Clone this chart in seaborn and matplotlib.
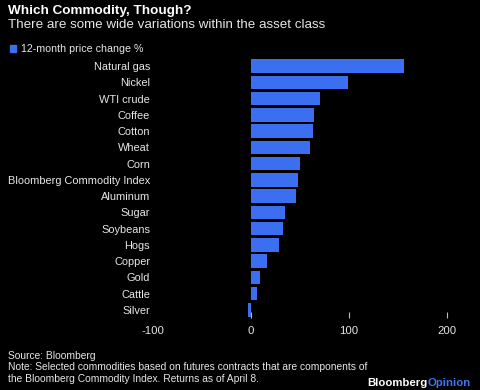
import pandas as pd
import matplotlib.pyplot as plt
import seaborn as sns

commodities = ['Natural gas', 'Nickel', 'WTI crude', 'Coffee', 'Cotton', 'Wheat',
               'Corn', 'Bloomberg Commodity Index', 'Aluminum', 'Sugar', 'Soybeans',
               'Hogs', 'Copper', 'Gold', 'Cattle', 'Silver']
price_change = [157, 99, 71, 65, 64, 60.5, 50.5, 48, 46, 34.5, 33, 28.5, 16.5, 9.5, 5.8, -3.4]
x_ticks = [-100, 0, 100, 200]

df = pd.DataFrame({'commodity': commodities, 'change': price_change})

bar_color = '#3b6ff0'
text_color = '#e6e6e6'

sns.set_style('dark')
plt.rcParams['font.family'] = ['Liberation Sans', 'DejaVu Sans']

fig = plt.figure(figsize=(4.8, 3.9), dpi=100, facecolor='black')
ax = fig.add_axes([153 / 480, 1 - 318 / 390, (470 - 153) / 480, (318 - 58) / 390])
ax.set_facecolor('black')

sns.barplot(data=df, x='change', y='commodity', orient='h', color=bar_color,
            width=0.82, saturation=1, linewidth=0, ax=ax)

ax.set_xlim(-100, 224)
ax.set_xticks(x_ticks)
ax.set_xticklabels([str(t) for t in x_ticks])
ax.set_xlabel('')
ax.set_ylabel('')
ax.grid(False)
for s in ax.spines.values():
    s.set_visible(False)

ax.tick_params(axis='x', bottom=True, direction='in', length=4, width=0.8, color='#bbbbbb',
               labelcolor=text_color, labelsize=8.2, pad=6)
ax.tick_params(axis='y', left=False, length=0, labelcolor=text_color, labelsize=7.9, pad=2)
ax.xaxis.get_major_ticks()[0].tick1line.set_visible(False)

# titles and legend
fig.text(8 / 480, 1 - 11 / 390, 'Which Commodity, Though?', color='white',
         fontsize=9.7, fontweight='bold', va='center', ha='left')
fig.text(8 / 480, 1 - 25 / 390, 'There are some wide variations within the asset class',
         color=text_color, fontsize=9.6, va='center', ha='left')
fig.patches.append(plt.Rectangle((10 / 480, 1 - 52 / 390), 6 / 480, 7 / 390,
                                 transform=fig.transFigure, color=bar_color))
fig.text(21 / 480, 1 - 48.5 / 390, '12-month price change %', color=text_color,
         fontsize=7.7, va='center', ha='left')

# footer
fig.text(8 / 480, 1 - 356 / 390, 'Source: Bloomberg', color=text_color,
         fontsize=7.4, va='center', ha='left')
fig.text(8 / 480, 1 - 367.5 / 390,
         'Note: Selected commodities based on futures contracts that are components of',
         color=text_color, fontsize=7.4, va='center', ha='left')
fig.text(8 / 480, 1 - 379 / 390,
         'the Bloomberg Commodity Index. Returns as of April 8.',
         color=text_color, fontsize=7.4, va='center', ha='left')

t1 = fig.text(367 / 480, 1 - 383 / 390, 'Bloomberg', color='white', fontsize=8.2,
              fontweight='bold', va='center', ha='left')
fig.canvas.draw()
bb = t1.get_window_extent()
fig.text(bb.x1 / 480, 1 - 383 / 390, 'Opinion', color='#3b78f0', fontsize=8.2,
         fontweight='bold', va='center', ha='left')

fig.savefig('out.png', dpi=100, facecolor='black')
